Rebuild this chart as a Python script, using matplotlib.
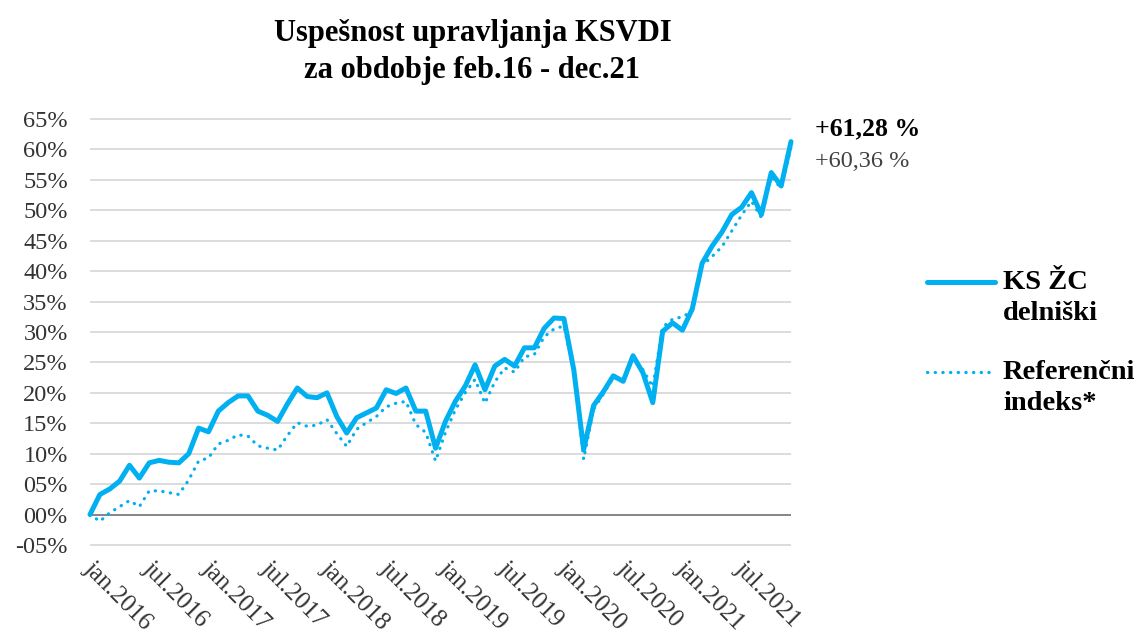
import matplotlib
matplotlib.use("Agg")
import matplotlib.pyplot as plt
import matplotlib.transforms as mtransforms
import numpy as np

plt.rcParams["font.family"] = ["Liberation Serif", "DejaVu Serif"]

# monthly cumulative return in %, jan.2016 .. dec.2021
ks_zc = [
    0.0, 3.3, 4.2, 5.5, 8.1, 6.0, 8.5, 8.9, 8.6, 8.5, 10.0, 14.2,
    13.6, 17.0, 18.4, 19.5, 19.5, 17.0, 16.3, 15.3, 18.2, 20.8, 19.4, 19.2,
    20.0, 16.1, 13.4, 15.9, 16.7, 17.5, 20.5, 19.9, 20.8, 17.0, 17.0, 10.9,
    15.3, 18.6, 21.1, 24.6, 20.5, 24.4, 25.5, 24.4, 27.4, 27.4, 30.6, 32.3,
    32.2, 23.8, 10.7, 17.9, 20.2, 22.8, 21.9, 26.1, 23.3, 18.4, 30.1, 31.5,
    30.3, 33.8, 41.3, 44.1, 46.4, 49.3, 50.5, 52.9, 49.3, 56.2, 54.0, 61.28,
]
referencni = [
    0.0, -1.1, 0.3, 1.3, 2.3, 1.3, 3.9, 3.9, 3.6, 3.3, 5.7, 8.8,
    9.3, 11.6, 12.2, 13.1, 12.9, 11.3, 10.9, 10.6, 13.0, 15.1, 14.5, 14.7,
    15.6, 13.3, 11.2, 14.0, 15.1, 16.1, 17.7, 18.3, 18.6, 14.8, 13.5, 8.8,
    13.5, 17.2, 20.0, 22.2, 18.3, 21.8, 24.1, 23.4, 25.9, 26.3, 29.2, 30.5,
    31.0, 23.5, 9.1, 17.3, 19.8, 22.5, 22.0, 25.6, 23.8, 21.0, 30.8, 32.1,
    32.5, 33.4, 40.9, 42.4, 44.0, 46.6, 49.2, 51.5, 48.8, 55.5, 53.6, 60.36,
]
tick_labels = [
    "jan.2016", "jul.2016", "jan.2017", "jul.2017", "jan.2018", "jul.2018",
    "jan.2019", "jul.2019", "jan.2020", "jul.2020", "jan.2021", "jul.2021",
]
y_ticks = list(range(-5, 70, 5))

BLUE = "#00B0F0"
W, H = 1141, 635

fig = plt.figure(figsize=(W / 100, H / 100), dpi=100)
ax = fig.add_axes([90 / W, 88.8 / H, 701 / W, 428.4 / H])

months = np.arange(len(ks_zc))
h_ref, = ax.plot(months, referencni, color=BLUE, lw=2.3,
                 linestyle=(0, (0.1, 2.3)), dash_capstyle="round",
                 zorder=3, clip_on=False)
h_ks, = ax.plot(months, ks_zc, color=BLUE, lw=3.6,
                solid_joinstyle="round", solid_capstyle="round",
                zorder=4, clip_on=False)

ax.axhline(0, color="#808080", lw=1.3, zorder=2)
ax.set_xlim(0, len(ks_zc) - 1)
ax.set_ylim(-5.2, 65.2)
ax.set_axisbelow(True)
ax.yaxis.grid(True, color="#D9D9D9", lw=1.3)
for s in ax.spines.values():
    s.set_visible(False)

ax.set_yticks(y_ticks)
ax.set_yticklabels([("-" if v < 0 else "") + f"{abs(v):02d}%" for v in y_ticks])
ax.tick_params(axis="y", length=0, pad=16, labelsize=17.5, labelcolor="#333333")

ax.set_xticks(range(0, len(ks_zc), 6))
ax.set_xticklabels(tick_labels, rotation=-45, ha="left", va="top",
                   rotation_mode="anchor")
ax.tick_params(axis="x", length=0, pad=8, labelsize=18, labelcolor="#333333")
shift = mtransforms.ScaledTranslation(5 / 100, 0, fig.dpi_scale_trans)
for lab in ax.get_xticklabels():
    lab.set_transform(lab.get_transform() + shift)

fig.text(0.4141, 1 - 19 / H, "Uspešnost upravljanja KSVDI\nza obdobje feb.16 - dec.21",
         ha="center", va="top", fontsize=22, fontweight="bold", linespacing=1.35)

fig.text(815 / W, 1 - 135 / H, "+61,28 %", fontsize=18.5, fontweight="bold",
         va="baseline", color="black")
fig.text(815 / W, 1 - 167 / H, "+60,36 %", fontsize=17.5, va="baseline",
         color="#404040")

leg = fig.legend([h_ks, h_ref], ["KS ŽC\ndelniški", "Referenčni\nindeks*"],
                 loc="upper left", bbox_to_anchor=(927 / W, 1 - 270 / H),
                 frameon=False, prop={"size": 20.5, "weight": "bold"},
                 handlelength=2.39, handletextpad=0.28, labelspacing=1.2,
                 borderpad=0, borderaxespad=0)
for t in leg.get_texts():
    t.set_linespacing(1.3)
# put legend keys next to the first line of each label
for line in leg.get_lines():
    line.set_ydata(np.asarray(line.get_ydata()) + 11.0)

fig.savefig("out.png", dpi=100)
